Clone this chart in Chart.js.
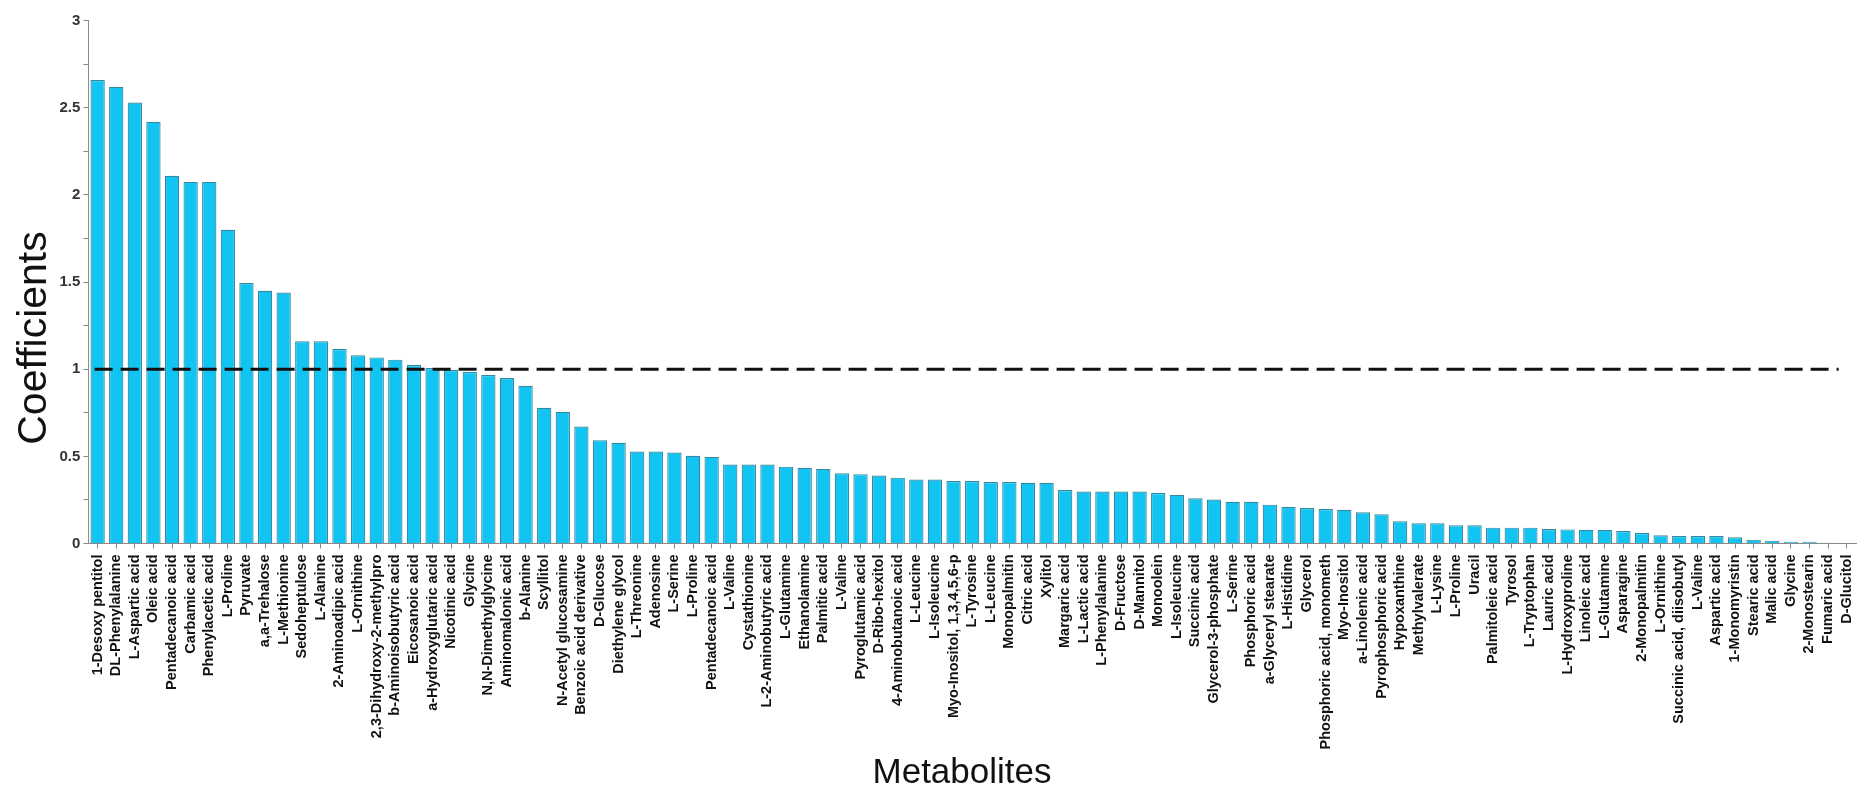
<!DOCTYPE html>
<html>
<head>
<meta charset="utf-8">
<script src="https://cdn.jsdelivr.net/npm/chart.js@4.4.1/dist/chart.umd.min.js"></script>
<style>
  html, body { margin: 0; padding: 0; background: #ffffff; }
  #wrap { width: 1858px; height: 786px; }
</style>
</head>
<body>
<div id="wrap"><canvas id="chart" width="1858" height="786"></canvas></div>
<script>
// Metabolite names, in ranked order
const metabolites = [
  "1-Desoxy pentitol", "DL-Phenylalanine", "L-Aspartic acid", "Oleic acid", "Pentadecanoic acid",
  "Carbamic acid", "Phenylacetic acid", "L-Proline", "Pyruvate", "a,a-Trehalose",
  "L-Methionine", "Sedoheptulose", "L-Alanine", "2-Aminoadipic acid", "L-Ornithine",
  "2,3-Dihydroxy-2-methylpro", "b-Aminoisobutyric acid", "Eicosanoic acid", "a-Hydroxyglutaric acid", "Nicotinic acid",
  "Glycine", "N,N-Dimethylglycine", "Aminomalonic acid", "b-Alanine", "Scyllitol",
  "N-Acetyl glucosamine", "Benzoic acid derivative", "D-Glucose", "Diethylene glycol", "L-Threonine",
  "Adenosine", "L-Serine", "L-Proline", "Pentadecanoic acid", "L-Valine",
  "Cystathionine", "L-2-Aminobutyric acid", "L-Glutamine", "Ethanolamine", "Palmitic acid",
  "L-Valine", "Pyroglutamic acid", "D-Ribo-hexitol", "4-Aminobutanoic acid", "L-Leucine",
  "L-Isoleucine", "Myo-Inositol, 1,3,4,5,6-p", "L-Tyrosine", "L-Leucine", "Monopalmitin",
  "Citric acid", "Xylitol", "Margaric acid", "L-Lactic acid", "L-Phenylalanine",
  "D-Fructose", "D-Mannitol", "Monoolein", "L-Isoleucine", "Succinic acid",
  "Glycerol-3-phosphate", "L-Serine", "Phosphoric acid", "a-Glyceryl stearate", "L-Histidine",
  "Glycerol", "Phosphoric acid, monometh", "Myo-Inositol", "a-Linolenic acid", "Pyrophosphoric acid",
  "Hypoxanthine", "Methylvalerate", "L-Lysine", "L-Proline", "Uracil",
  "Palmitoleic acid", "Tyrosol", "L-Tryptophan", "Lauric acid", "L-Hydroxyproline",
  "Linoleic acid", "L-Glutamine", "Asparagine", "2-Monopalmitin", "L-Ornithine",
  "Succinic acid, diisobutyl", "L-Valine", "Aspartic acid", "1-Monomyristin", "Stearic acid",
  "Malic acid", "Glycine", "2-Monostearin", "Fumaric acid", "D-Glucitol"
];

// Coefficient of each metabolite
const coefficients = [
  2.66, 2.62, 2.53, 2.42, 2.11,
  2.075, 2.075, 1.80, 1.495, 1.45,
  1.44, 1.16, 1.16, 1.116, 1.08,
  1.068, 1.055, 1.024, 1.007, 0.995,
  0.984, 0.967, 0.949, 0.905, 0.779,
  0.756, 0.671, 0.593, 0.578, 0.528,
  0.528, 0.522, 0.503, 0.497, 0.453,
  0.453, 0.453, 0.441, 0.435, 0.428,
  0.403, 0.398, 0.390, 0.378, 0.367,
  0.367, 0.359, 0.359, 0.353, 0.353,
  0.348, 0.348, 0.307, 0.298, 0.298,
  0.298, 0.298, 0.290, 0.279, 0.260,
  0.252, 0.240, 0.240, 0.223, 0.210,
  0.204, 0.198, 0.193, 0.179, 0.168,
  0.127, 0.116, 0.116, 0.105, 0.105,
  0.091, 0.091, 0.091, 0.083, 0.081,
  0.079, 0.078, 0.072, 0.060, 0.047,
  0.043, 0.043, 0.043, 0.036, 0.022,
  0.016, 0.010, 0.010, 0.005, 0.001
];

// Value axis: range, minor step and labelled step
const yMin = 0;
const yMax = 3;
const yMinorStep = 0.25;
const yLabelStep = 0.5;

// Cut-off drawn as a dashed reference line
const threshold = 1;

const xTitle = "Metabolites";
const yTitle = "Coefficients";

// Dashed cut-off line and the two axis titles
const overlay = {
  id: 'overlay',
  afterDatasetsDraw(chart) {
    const { ctx, scales } = chart;
    const xs = scales.x, ys = scales.y;
    const yy = ys.getPixelForValue(threshold);
    ctx.save();
    ctx.setLineDash([18, 8]);
    ctx.lineWidth = 3;
    ctx.strokeStyle = '#111111';
    ctx.beginPath();
    ctx.moveTo(xs.getPixelForValue(0) - 3, yy);
    ctx.lineTo(xs.getPixelForValue(metabolites.length - 1) - 8, yy);
    ctx.stroke();
    ctx.restore();
  },
  afterDraw(chart) {
    const { ctx } = chart;
    ctx.save();
    ctx.fillStyle = '#111111';
    ctx.font = '35px "Liberation Sans", Arial, sans-serif';
    ctx.textAlign = 'center';
    ctx.textBaseline = 'alphabetic';
    ctx.fillText(xTitle, 962, 783);
    ctx.translate(46, 338);
    ctx.rotate(-Math.PI / 2);
    ctx.font = '41px "Liberation Sans", Arial, sans-serif';
    ctx.fillText(yTitle, 0, 0);
    ctx.restore();
  }
};

new Chart(document.getElementById('chart'), {
  type: 'bar',
  data: {
    labels: metabolites,
    datasets: [{
      data: coefficients,
      backgroundColor: '#12c4f2',
      borderColor: '#35889f',
      borderWidth: 1.2,
      barPercentage: 0.77,
      categoryPercentage: 1.0
    }]
  },
  options: {
    responsive: false,
    devicePixelRatio: 1,
    animation: false,
    layout: { padding: { top: 20.7, right: 2, bottom: 0, left: 0 } },
    plugins: {
      legend: { display: false },
      tooltip: { enabled: false }
    },
    scales: {
      x: {
        offset: true,
        grid: {
          offset: false,
          drawOnChartArea: false,
          drawTicks: true,
          tickLength: 5,
          tickColor: '#8a8a8a'
        },
        border: { display: true, color: '#8a8a8a', width: 1 },
        ticks: {
          autoSkip: false,
          minRotation: 90,
          maxRotation: 90,
          padding: 6,
          color: '#111111',
          font: { family: '"Liberation Sans", Arial, sans-serif', size: 14.5, weight: 'bold' }
        },
        afterFit(scale) {
          scale.height = 786 - 543.5;
          scale.paddingLeft = 0;
          scale.paddingRight = 0;
        }
      },
      y: {
        min: yMin,
        max: yMax,
        grid: {
          drawOnChartArea: false,
          drawTicks: true,
          tickLength: 5,
          tickColor: '#8a8a8a'
        },
        border: { display: true, color: '#8a8a8a', width: 1 },
        ticks: {
          stepSize: yMinorStep,
          padding: 3,
          color: '#333333',
          font: { family: '"Liberation Sans", Arial, sans-serif', size: 15, weight: 'bold' },
          callback(value) {
            const r = value / yLabelStep;
            return Math.abs(r - Math.round(r)) < 1e-6 ? String(value) : '';
          }
        },
        afterFit(scale) {
          scale.width = 88.3;
        }
      }
    }
  },
  plugins: [overlay]
});
</script>
</body>
</html>
